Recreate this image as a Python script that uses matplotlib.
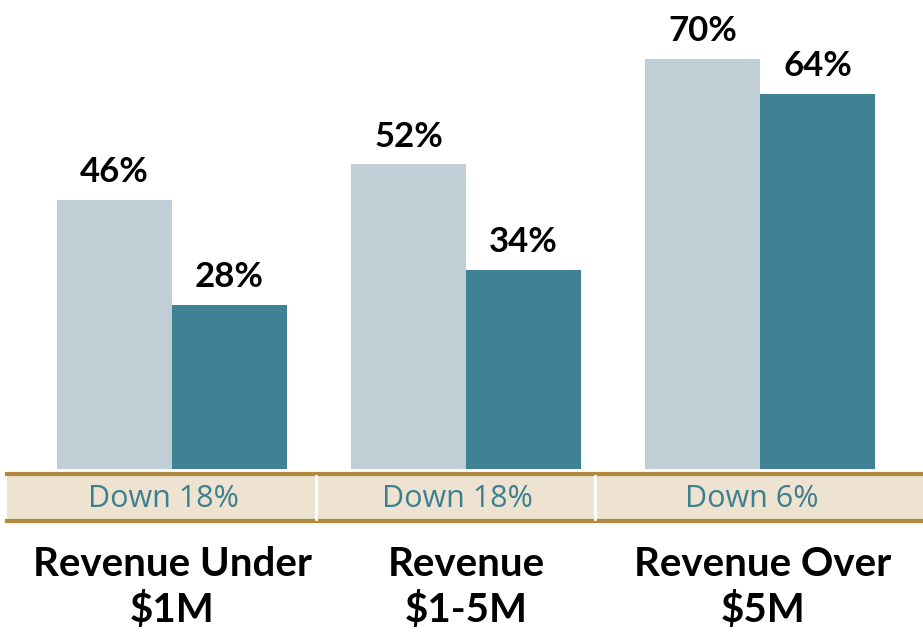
import matplotlib.pyplot as plt
from matplotlib.patches import Rectangle

# data
categories = ["Revenue Under\n$1M", "Revenue\n$1-5M", "Revenue Over\n$5M"]
before_vals = [46, 52, 70]
after_vals = [28, 34, 64]
change_labels = ["Down 18%", "Down 18%", "Down 6%"]

light = "#C0CFD5"
teal = "#3E8294"
band_fill = "#EDE3D0"
band_edge = "#B08A3E"

fig = plt.figure(figsize=(9.23, 6.35), dpi=100)
ax = fig.add_axes([0, 0, 1, 1])
ax.set_xlim(-0.585, 2.554)
ax.set_ylim(-28.34, 80.07)
ax.axis("off")

w = 0.391
x = list(range(len(categories)))
ax.bar([i - w / 2 for i in x], before_vals, width=w, color=light)
ax.bar([i + w / 2 for i in x], after_vals, width=w, color=teal)

for i in x:
    ax.text(i - w / 2, before_vals[i] + 2.0, f"{before_vals[i]}%", ha="center", va="bottom",
            fontsize=25, fontweight="bold", family="Lato")
    ax.text(i + w / 2, after_vals[i] + 2.0, f"{after_vals[i]}%", ha="center", va="bottom",
            fontsize=25, fontweight="bold", family="Lato")

# the beige table band under the bars
band_top = -0.85
band_bot = -8.88
ax.add_patch(Rectangle((-0.561, band_bot), 3.2, band_top - band_bot, color=band_fill, zorder=1))
ax.plot([-0.561, 2.6], [band_top, band_top], color=band_edge, lw=3, zorder=2)
ax.plot([-0.561, 2.6], [band_bot, band_bot], color=band_edge, lw=3, zorder=2)
for sx in [0.488, 1.44]:
    ax.plot([sx, sx], [band_bot + 0.3, band_top - 0.3], color="white", lw=2, zorder=2)

for i in x:
    ax.text(i - 0.03, (band_top + band_bot) / 2 - 0.3, change_labels[i], ha="center", va="center",
            fontsize=22, color="#3E7F8F", family="Open Sans")
    ax.text(i + (0.01 if i == 2 else 0), -20.2, categories[i], ha="center", va="center",
            fontsize=29, fontweight="bold", family="Lato", linespacing=1.25)

fig.savefig("out.png", dpi=100)
